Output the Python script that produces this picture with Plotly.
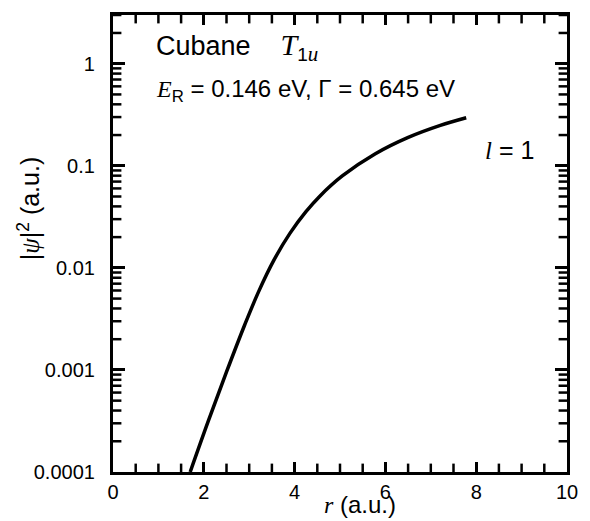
import plotly.graph_objects as go
import numpy as np

# Data
r_vals = [1.70, 2.10, 2.50, 2.90, 3.20, 3.55, 3.90, 4.25, 4.55, 5.05, 5.77, 6.49, 7.21, 7.78]
log_psi2 = [-4.00, -3.50, -3.02, -2.56, -2.24, -1.92, -1.66, -1.45, -1.30, -1.10,
            -0.885, -0.725, -0.605, -0.53]
psi2_vals = [10.0 ** v for v in log_psi2]

y_tickvals = [0.0001, 0.001, 0.01, 0.1, 1]
y_ticktext = ["0.0001", "0.001", "0.01", "0.1", "1"]
x_tickvals = [0, 2, 4, 6, 8, 10]
x_ticktext = ["0", "2", "4", "6", "8", "10"]
x_minor = [0.5, 1, 1.5, 2.5, 3, 3.5, 4.5, 5, 5.5, 6.5, 7, 7.5, 8.5, 9, 9.5]
y_minor = [m * 10.0 ** e for e in range(-4, 1) for m in range(2, 10) if m * 10.0 ** e <= 3.0]

X_MIN, X_MAX = 0, 10
Y_MIN, Y_MAX = 1e-4, 3.0

SANS = "Liberation Sans, Arial, sans-serif"
SERIF = "Liberation Serif, Times New Roman, serif"
NB = "\u00a0"

fig = go.Figure()
fig.add_trace(go.Scatter(
    x=r_vals, y=psi2_vals, mode="lines",
    line=dict(color="black", width=3.5, shape="spline", smoothing=1.0),
    showlegend=False, hoverinfo="skip",
))

# minor tick marks: line markers centred on the frame, clipped to the plot area
tick_marker_ns = dict(symbol="line-ns", size=12, color="black",
                      line=dict(color="black", width=2.5))
tick_marker_ew = dict(symbol="line-ew", size=12, color="black",
                      line=dict(color="black", width=2.5))
for yv in (Y_MIN, Y_MAX):
    fig.add_trace(go.Scatter(x=x_minor, y=[yv] * len(x_minor), mode="markers",
                             marker=tick_marker_ns, cliponaxis=True,
                             showlegend=False, hoverinfo="skip"))
for xv in (X_MIN, X_MAX):
    fig.add_trace(go.Scatter(x=[xv] * len(y_minor), y=y_minor, mode="markers",
                             marker=tick_marker_ew, cliponaxis=True,
                             showlegend=False, hoverinfo="skip"))

fig.update_layout(
    width=590, height=521,
    margin=dict(l=113, r=14, t=13, b=49),
    paper_bgcolor="white", plot_bgcolor="white",
    font=dict(family=SANS, color="black", size=20),
)

fig.update_xaxes(
    range=[X_MIN, X_MAX], tickmode="array", tickvals=x_tickvals, ticktext=x_ticktext,
    ticks="inside", ticklen=10, tickwidth=3, tickcolor="#000000",
    showline=True, linecolor="black", linewidth=3, mirror="ticks",
    showgrid=False, zeroline=False, tickfont=dict(size=20, family=SANS),
)
fig.update_yaxes(
    type="log", range=[float(np.log10(Y_MIN)), float(np.log10(Y_MAX))],
    tickmode="array", tickvals=y_tickvals, ticktext=[t + NB * 2 for t in y_ticktext],
    ticks="inside", ticklen=12, tickwidth=3, tickcolor="#000000",
    showline=True, linecolor="black", linewidth=3, mirror="ticks",
    showgrid=False, zeroline=False, tickfont=dict(size=20, family=SANS),
)

serif_i = lambda t: f"<span style='font-family:{SERIF}'><i>{t}</i></span>"

annotations = [
    dict(x=0.091, y=0.930, xref="paper", yref="paper", xanchor="left", yanchor="middle",
         text="Cubane" + NB * 4
              + f"<span style='font-family:{SERIF};font-size:30px'><i>T</i></span>"
              + "<sub><span style='font-size:19px'>1</span>"
              + f"<span style='font-family:{SERIF};font-size:21px'><i>u</i></span></sub>",
         showarrow=False, font=dict(size=27, family=SANS)),
    dict(x=0.091, y=0.835, xref="paper", yref="paper", xanchor="left", yanchor="middle",
         text=serif_i("E") + "<sub>R</sub> = 0.146 eV, Γ = 0.645 eV",
         showarrow=False, font=dict(size=24, family=SANS)),
    dict(x=0.814, y=0.705, xref="paper", yref="paper", xanchor="left", yanchor="middle",
         text=serif_i("l") + " = 1",
         showarrow=False, font=dict(size=25, family=SANS)),
    dict(x=0.543, y=-0.072, xref="paper", yref="paper", xanchor="center", yanchor="middle",
         text=serif_i("r") + " (a.u.)",
         showarrow=False, font=dict(size=24, family=SANS)),
    dict(x=-0.185, y=0.577, xref="paper", yref="paper", xanchor="center", yanchor="middle",
         text="|" + serif_i("ψ") + "|<sup>2</sup> (a.u.)", textangle=-90,
         showarrow=False, font=dict(size=25, family=SANS)),
]
fig.update_layout(annotations=annotations)

fig.write_html("out.html")
